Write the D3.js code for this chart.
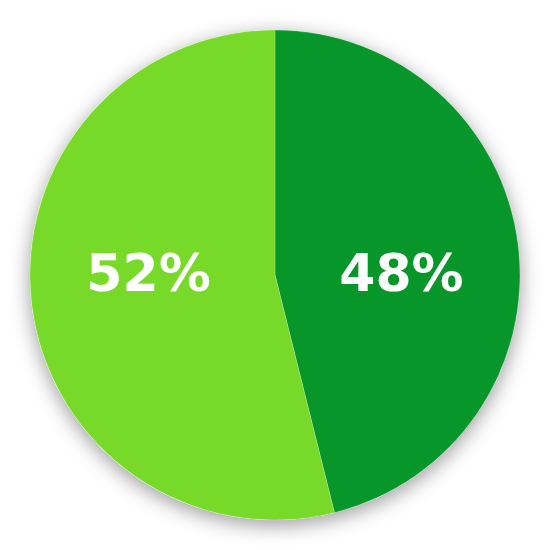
<!DOCTYPE html>
<html>
<head>
<meta charset="utf-8">
<script src="https://cdn.jsdelivr.net/npm/d3@7"></script>
<style>
  html, body { margin: 0; padding: 0; background: #fff; }
</style>
</head>
<body>
<svg id="chart"></svg>
<script>
// slice sizes as drawn, and the labels printed on them
const categories = ['A', 'B'];
const values = [46.1, 53.9];
const labels = ['48%', '52%'];
const colors = ['#07962a', '#78da28'];

const width = 550;
const height = 550;
const cx = 275;
const cy = 275;
const radius = 245;

const svg = d3.select('#chart')
  .attr('width', width)
  .attr('height', height);

const defs = svg.append('defs');
const filter = defs.append('filter')
  .attr('id', 'shadow')
  .attr('x', '-20%').attr('y', '-20%')
  .attr('width', '140%').attr('height', '140%');
filter.append('feDropShadow')
  .attr('dx', 0)
  .attr('dy', 5)
  .attr('stdDeviation', 10)
  .attr('flood-color', '#000')
  .attr('flood-opacity', 0.4);

const data = categories.map((c, i) => ({ cat: c, value: values[i], label: labels[i], color: colors[i] }));

const pie = d3.pie()
  .sort(null)
  .value(d => d.value);

const arc = d3.arc()
  .innerRadius(0)
  .outerRadius(radius);

const g = svg.append('g')
  .attr('transform', `translate(${cx}, ${cy})`);

// shadow circle behind slices
g.append('circle')
  .attr('r', radius)
  .attr('fill', '#fff')
  .attr('filter', 'url(#shadow)');

const arcs = pie(data);

g.selectAll('path')
  .data(arcs)
  .enter()
  .append('path')
  .attr('d', arc)
  .attr('fill', d => d.data.color)
  .attr('stroke', 'rgba(255,255,255,0.35)')
  .attr('stroke-width', 0.6);

// labels sit level with the centre, horizontally at the slice centroid
const labelArc = d3.arc().innerRadius(0).outerRadius(radius * 1.04);

g.selectAll('text')
  .data(arcs)
  .enter()
  .append('text')
  .attr('x', d => labelArc.centroid(d)[0])
  .attr('y', 16)
  .attr('text-anchor', 'middle')
  .attr('fill', '#fff')
  .style('font-family', '"DejaVu Sans", sans-serif')
  .style('font-weight', 'bold')
  .style('font-size', '52px')
  .text(d => d.data.label);
</script>
</body>
</html>
